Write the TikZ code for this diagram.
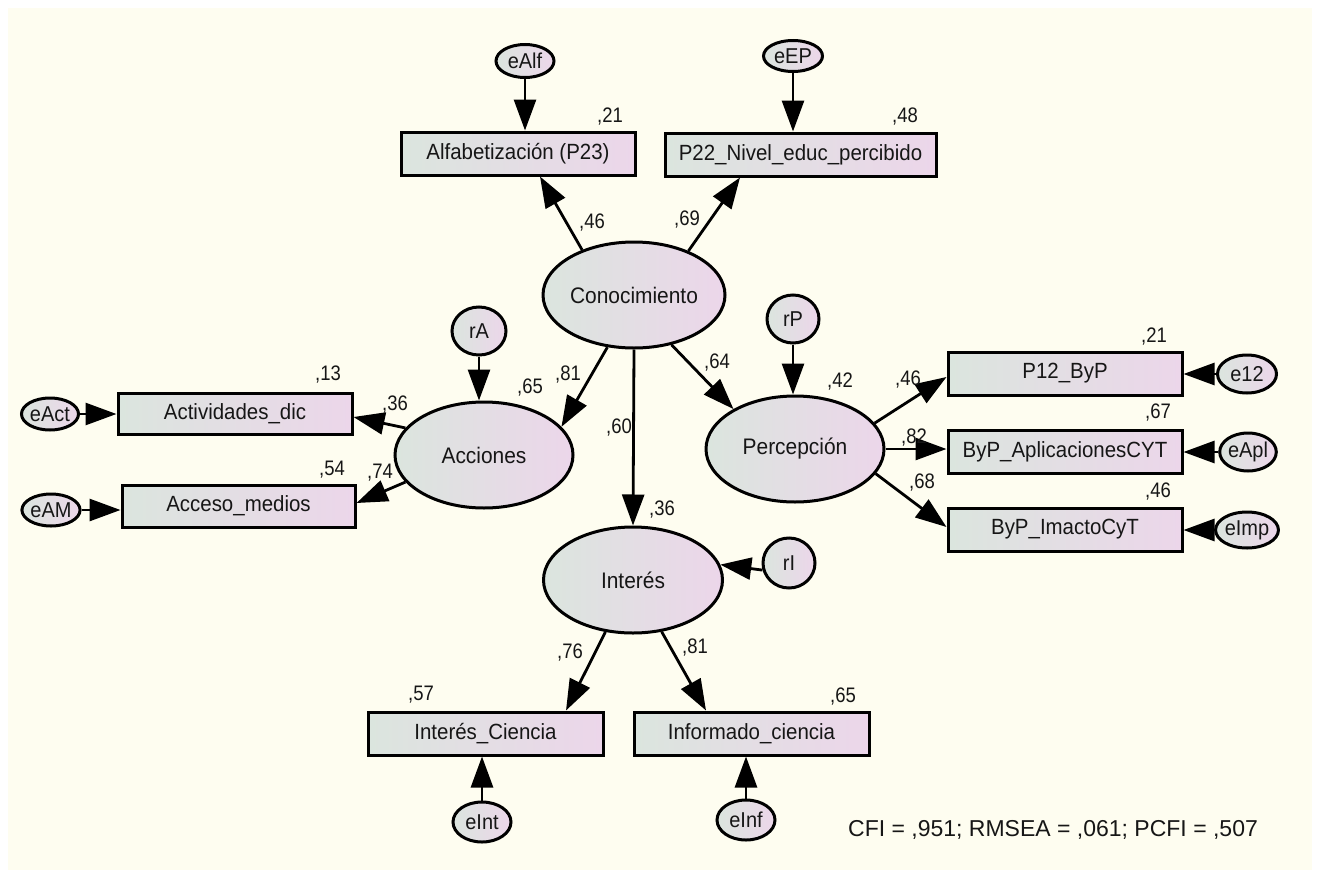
\documentclass[tikz,border=0pt]{standalone}
\usepackage{fontspec}
\setmainfont{Liberation Sans}
\newfontfamily\labfont[FakeStretch=0.93]{Liberation Sans}
\newfontfamily\numfont[FakeStretch=0.88]{Liberation Sans}
\usetikzlibrary{arrows.meta,shapes.geometric,calc}

\definecolor{paper}{RGB}{254,253,240}
\definecolor{shadeL}{RGB}{219,229,222}
\definecolor{shadeR}{RGB}{236,214,234}
\definecolor{ink}{RGB}{22,22,22}

\tikzset{
  obs/.style={rectangle, draw=black, line width=3pt, left color=shadeL, right color=shadeR,
    inner sep=0pt, minimum height=43pt, text=ink, font=\labfont\fontsize{22}{24}\selectfont},
  lat/.style={ellipse, draw=black, line width=3pt, left color=shadeL, right color=shadeR,
    inner sep=0pt, minimum width=179pt, minimum height=106pt, text=ink,
    font=\labfont\fontsize{22.5}{24}\selectfont},
  err/.style={ellipse, draw=black, line width=3pt, left color=shadeL, right color=shadeR,
    inner sep=0pt, text=ink, font=\labfont\fontsize{21.5}{23}\selectfont},
  num/.style={inner sep=0pt, text=ink, font=\numfont\fontsize{21}{23}\selectfont},
  arr/.style={draw=black, line width=2.8pt, -{Triangle[length=31pt,width=22pt]}}
}

\begin{document}
\begin{tikzpicture}[x=1pt,y=-1pt]
\useasboundingbox (0,0) rectangle (1317,870);
\fill[white] (0,0) rectangle (1317,870);
\fill[paper] (8,8) rectangle (1312,870);

% latent variables
\node[lat, minimum width=182pt] (con) at (634,295) {Conocimiento};
\node[lat, minimum width=178pt] (acc) at (484,455) {Acciones};
\node[lat, minimum width=178pt] (per) at (795,449) {Percepción};
\node[lat] (int) at (633,580) {Interés};

% observed indicators
\node[obs, minimum width=234pt] (alf) at (518,153.5) {Alfabetización (P23)};
\node[obs, minimum width=271pt] (p22) at (800.5,154.5) {P22\_Nivel\_educ\_percibido};
\node[obs, minimum width=234pt, minimum height=41pt] (act) at (235,413.5) {Actividades\_dic};
\node[obs, minimum width=233pt, minimum height=42pt] (acm) at (238.5,506) {Acceso\_medios};
\node[obs, minimum width=234pt] (p12) at (1065,373.5) {P12\_ByP};
\node[obs, minimum width=234pt] (apl) at (1065,451.5) {ByP\_AplicacionesCYT};
\node[obs, minimum width=234pt] (imp) at (1065,529.5) {ByP\_ImactoCyT};
\node[obs, minimum width=235pt] (ic) at (485.5,733.5) {Interés\_Ciencia};
\node[obs, minimum width=235pt] (inf) at (751.5,733.5) {Informado\_ciencia};

% error and residual terms
\node[err, minimum width=58pt, minimum height=33pt] (eAlf) at (525,61) {eAlf};
\node[err, minimum width=59pt, minimum height=31pt] (eEP) at (793,56) {eEP};
\node[err, minimum width=54pt, minimum height=48pt] (rA) at (479,331) {rA};
\node[err, minimum width=52pt, minimum height=48pt] (rP) at (793,319) {rP};
\node[err, minimum width=52pt, minimum height=50pt] (rI) at (789,563) {rI};
\node[err, minimum width=57pt, minimum height=32pt] (eAct) at (50,414) {eAct};
\node[err, minimum width=57pt, minimum height=32pt] (eAM) at (51,510) {eAM};
\node[err, minimum width=59pt, minimum height=38pt] (e12) at (1247,374) {e12};
\node[err, minimum width=54pt, minimum height=38pt] (eApl) at (1248,452) {eApl};
\node[err, minimum width=57pt, minimum height=36pt] (eImp) at (1247,530) {eImp};
\node[err, minimum width=58pt, minimum height=40pt] (eInt) at (482,822) {eInt};
\node[err, minimum width=58pt, minimum height=40pt] (eInf) at (746,820) {eInf};

% structural paths
\draw[arr] (con.139) -- ($(alf.south)+(22,0)$);
\draw[arr] (con.39) -- ($(p22.south)+(-60.5,0)$);
\draw[arr] (con.243) -- (acc.20);
\draw[arr] (con.south) -- (int.north);
\draw[arr] (con.307) -- (per.147);

% measurement paths
\draw[arr] (acc.161) -- ($(act.east)+(0,3.5)$);
\draw[arr] (acc.199) -- ($(acm.east)+(0,-3)$);
\draw[arr] (per.18) -- ($(p12.west)+(0,3.5)$);
\draw[arr] (per.east) -- (per.east -| apl.west);
\draw[arr] (per.343) -- ($(imp.west)+(0,-2.5)$);
\draw[arr] (int.242) -- ($(ic.north)+(80.5,0)$);
\draw[arr] (int.299) -- ($(inf.north)+(-45.5,0)$);

% error paths
\draw[arr] (eAlf.south) -- (eAlf.south |- alf.north);
\draw[arr] (eEP.south) -- (eEP.south |- p22.north);
\draw[arr] (rA.south) -- (rA.south |- acc.north);
\draw[arr] (rP.south) -- (rP.south |- per.north);
\draw[arr] (rI.195) -- (int.10);
\draw[arr] (eAct.east) -- (eAct.east -| act.west);
\draw[arr] (eAM.east) -- (eAM.east -| acm.west);
\draw[arr] (e12.west) -- (e12.west -| p12.east);
\draw[arr] (eApl.west) -- (eApl.west -| apl.east);
\draw[arr] (eImp.west) -- (eImp.west -| imp.east);
\draw[arr] (eInt.north) -- (eInt.north |- ic.south);
\draw[arr] (eInf.north) -- (eInf.north |- inf.south);

% coefficients
\node[num] (rAlf) at (610,117) {,21};
\node[num] (rP22) at (905,117) {,48};
\node[num] (wAlf) at (592,223) {,46};
\node[num] (wP22) at (687,220) {,69};
\node[num] (rAcc) at (530,388) {,65};
\node[num] (wAcc) at (568,375) {,81};
\node[num] (wInt) at (619,428) {,60};
\node[num] (wPer) at (717,363) {,64};
\node[num] (rPer) at (840,382) {,42};
\node[num] (rAct) at (328,375) {,13};
\node[num] (wAct) at (395,405) {,36};
\node[num] (rAcm) at (332,470) {,54};
\node[num] (wAcm) at (380,473) {,74};
\node[num] (rP12) at (1154,337) {,21};
\node[num] (wP12) at (908,380) {,46};
\node[num] (rApl) at (1158,413) {,67};
\node[num] (wApl) at (914,438) {,82};
\node[num] (rImp) at (1158,492) {,46};
\node[num] (wImp) at (922,483) {,68};
\node[num] (rInt) at (662,510) {,36};
\node[num] (wIc) at (570,653) {,76};
\node[num] (wInf) at (695,648) {,81};
\node[num] (rIc) at (421,695) {,57};
\node[num] (rInf) at (843,697) {,65};

% fit indices
\node[inner sep=0pt, text=ink, font=\fontsize{23}{25}\selectfont] (fit) at (1053,830)
  {CFI = ,951; RMSEA = ,061; PCFI = ,507};
\end{tikzpicture}
\end{document}
